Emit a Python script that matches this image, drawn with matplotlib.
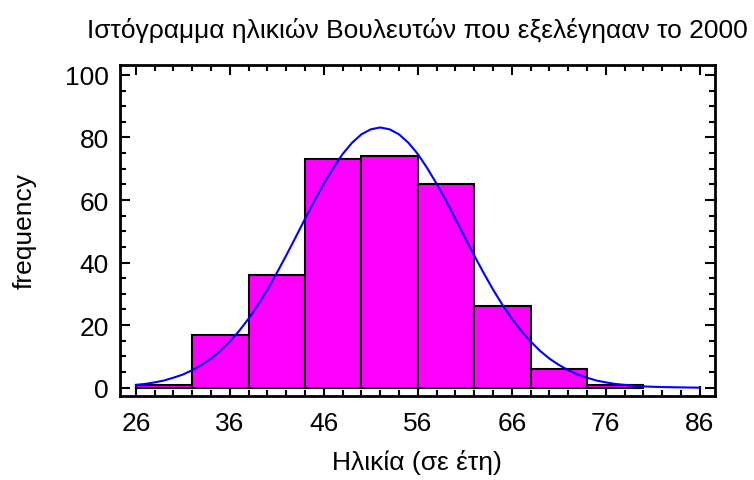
import matplotlib
matplotlib.use("Agg")
import matplotlib.pyplot as plt
from matplotlib.ticker import MultipleLocator

plt.rcParams['font.family'] = ['Liberation Sans', 'DejaVu Sans']

# Data
bin_edges = [26, 32, 38, 44, 50, 56, 62, 68, 74, 80]
counts = [1, 17, 36, 73, 74, 65, 26, 6, 1]
curve_x = [26, 27, 28, 29, 30, 31, 32, 33, 34, 35, 36, 37, 38, 39, 40, 41, 42, 43, 44, 45,
           46, 47, 48, 49, 50, 51, 52, 53, 54, 55, 56, 57, 58, 59, 60, 61, 62, 63, 64, 65,
           66, 67, 68, 69, 70, 71, 72, 73, 74, 75, 76, 77, 78, 79, 80, 82, 84, 86]
curve_y = [0.9, 1.2, 1.7, 2.3, 3.2, 4.2, 5.6, 7.3, 9.3, 11.8, 14.8, 18.2, 22.1, 26.5, 31.4,
           36.7, 42.3, 48.1, 54.0, 59.8, 65.2, 70.2, 74.7, 78.3, 81.0, 82.6, 83.2,
           82.6, 81.0, 78.3, 74.7, 70.2, 65.2, 59.8, 54.0, 48.1, 42.3, 36.7, 31.4, 26.5,
           22.1, 18.2, 14.8, 11.8, 9.3, 7.3, 5.6, 4.2, 3.2, 2.3, 1.7, 1.2, 0.9, 0.6, 0.4,
           0.2, 0.1, 0.0]
x_ticks = [26, 36, 46, 56, 66, 76, 86]
y_ticks = [0, 20, 40, 60, 80, 100]
title = "Ιστόγραμμα ηλικιών Βουλευτών που εξελέγηααν το 2000"
xlabel = "Ηλικία (σε έτη)"
ylabel = "frequency"

fig = plt.figure(figsize=(7.54, 4.81), dpi=100)
ax = fig.add_axes([0.159, 0.175, 0.789, 0.688])

lefts = bin_edges[:-1]
widths = [b - a for a, b in zip(bin_edges[:-1], bin_edges[1:])]
ax.bar(lefts, counts, width=widths, align='edge', color='#FF00FF',
       edgecolor='black', linewidth=1.5, zorder=2)
ax.plot(curve_x, curve_y, color='#0000FF', linewidth=1.5, zorder=3)

ax.set_xlim(24.3, 87.6)
ax.set_ylim(-2.6, 103.2)
ax.set_xticks(x_ticks)
ax.set_yticks(y_ticks)
ax.xaxis.set_minor_locator(MultipleLocator(2))
ax.yaxis.set_minor_locator(MultipleLocator(5))
ax.tick_params(which='both', direction='in', top=True, right=True, width=1.5)
ax.tick_params(which='major', length=7.5, labelsize=19)
ax.tick_params(axis='x', which='major', pad=11)
ax.tick_params(axis='y', which='major', pad=8)
ax.tick_params(which='minor', length=4)
for s in ax.spines.values():
    s.set_linewidth(2)

ax.set_title(title, fontsize=19, pad=20)
ax.set_xlabel(xlabel, fontsize=19, labelpad=10)
ax.set_ylabel(ylabel, fontsize=19, labelpad=20)

fig.savefig("out.png", dpi=100)
